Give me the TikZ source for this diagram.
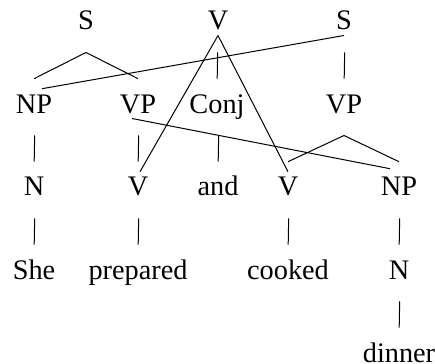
\documentclass[tikz,border=0pt]{standalone}
\usepackage{fontspec}
\setmainfont{Liberation Serif}
\begin{document}
\begin{tikzpicture}[x=0.5pt, y=-0.5pt, line width=0.5pt,
    cat/.style={anchor=base, inner xsep=0pt, inner ysep=2.5pt, text height=9.4pt,
      text depth=0pt, font=\fontsize{14.15pt}{17pt}\selectfont},
    bar/.style={shorten <=8.5pt, shorten >=5pt}]
  \useasboundingbox (0,0) rectangle (435,364);
  \node[cat] (sL) at (86,30) {S};
  \node[cat] (vTop) at (218,30) {V};
  \node[cat] (sR) at (344,30) {S};
  \node[cat] (np1) at (34,113) {NP};
  \node[cat] (vp1) at (138,113) {VP};
  \node[cat] (conj) at (217,113) {Conj};
  \node[cat] (vp2) at (344,113) {VP};
  \node[cat] (n1) at (34,196) {N};
  \node[cat] (v1) at (138,196) {V};
  \node[cat] (and) at (218,196) {and};
  \node[cat] (v2) at (288,196) {V};
  \node[cat] (np2) at (399,196) {NP};
  \node[cat] (she) at (34,279) {She};
  \node[cat] (prepared) at (138,279) {prepared};
  \node[cat] (cooked) at (288,279) {cooked};
  \node[cat] (n2) at (399,279) {N};
  \node[cat] (dinner) at (399,362) {dinner};
  \draw ([yshift=5pt]np1.north) -- ([yshift=-8.5pt]sL.south) -- ([yshift=5pt]vp1.north);
  \draw ([yshift=5pt]v2.north) -- ([yshift=-8.5pt]vp2.south) -- ([yshift=5pt]np2.north);
  \foreach \a/\b in {vTop/conj, sR/vp2, np1/n1, vp1/v1, conj/and, n1/she,
      v1/prepared, v2/cooked, np2/n2, n2/dinner}
    \draw[bar] ([xshift=0.5pt]\a.south -| \b.north) -- (\b.north);
  \draw (sR.south) -- ([xshift=4pt]np1.north);
  \draw ([xshift=-3pt]vp1.south) -- ([xshift=-4.5pt, yshift=1.5pt]np2.north);
  \draw (vTop.south) -- ([xshift=1pt]v1.north);
  \draw (vTop.south) -- (v2.north);
\end{tikzpicture}
\end{document}
